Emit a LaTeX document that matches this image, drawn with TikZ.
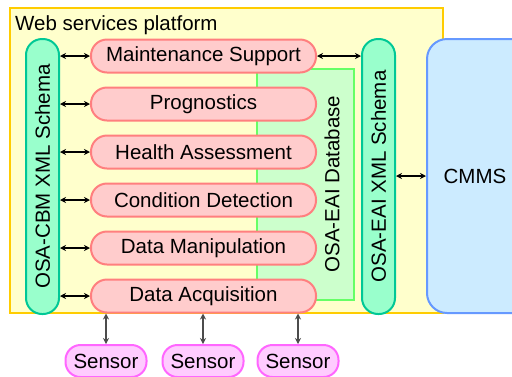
\documentclass[tikz,border=0pt]{standalone}
\usepackage{fontspec}
\setmainfont{Liberation Sans}
\usepackage{tikz}
\usetikzlibrary{arrows.meta,positioning,calc}
\definecolor{platfill}{HTML}{FFFFCC}
\definecolor{platdraw}{HTML}{FFCC00}
\definecolor{layfill}{HTML}{FFCCCC}
\definecolor{laydraw}{HTML}{FF7F7F}
\definecolor{schfill}{HTML}{99FFCC}
\definecolor{schdraw}{HTML}{00C896}
\definecolor{dbfill}{HTML}{CCFFCC}
\definecolor{dbdraw}{HTML}{66FF66}
\definecolor{cmfill}{HTML}{CCEBFF}
\definecolor{cmdraw}{HTML}{6699FF}
\definecolor{senfill}{HTML}{FFCCFF}
\definecolor{sendraw}{HTML}{FF66FF}
\tikzset{
  layer/.style={rectangle, rounded corners=16pt, draw=laydraw, fill=layfill, line width=2pt,
                minimum width=225pt, minimum height=33pt, inner sep=0pt},
  schema/.style={rectangle, rounded corners=16pt, draw=schdraw, fill=schfill, line width=2pt,
                 rotate=90, minimum width=275pt, minimum height=33pt, inner sep=0pt},
  sensorbox/.style={rectangle, rounded corners=15pt, draw=sendraw, fill=senfill, line width=2pt,
                    minimum width=81pt, minimum height=32pt, inner sep=0pt},
  arr/.style={{Stealth[length=6pt,width=6pt]}-{Stealth[length=6pt,width=6pt]}, line width=1.2pt},
}

\begin{document}
\begin{tikzpicture}[x=1pt, y=-1pt, font=\fontsize{20.5}{24}\selectfont]
\path[use as bounding box, clip] (0,0) rectangle (512,376);
% platform frame
\draw[draw=platdraw, fill=platfill, line width=2pt] (10,8) rectangle (443,313);
\node[anchor=base west, inner sep=0pt] (title) at (15,30) {Web services platform};
% database and CMMS
\draw[draw=dbdraw, fill=dbfill, line width=2pt] (257,69) rectangle (354,300);
\node[rotate=90, inner sep=0pt] (db) at (332,184) {OSA-EAI Database};
\node[rectangle, rounded corners=20pt, draw=cmdraw, fill=cmfill, line width=2pt,
      minimum width=110pt, minimum height=274pt] (cmms) at (482,176) {};
\node (cmmstext) at (475,176) {CMMS};
% processing layers
\node[layer] (ms) at (203.5,56)  {Maintenance Support};
\node[layer] (pa) at (203.5,104) {Prognostics};
\node[layer] (ha) at (203.5,152) {Health Assessment};
\node[layer] (cd) at (203.5,200) {Condition Detection};
\node[layer] (dm) at (203.5,248) {Data Manipulation};
\node[layer] (da) at (203.5,296) {Data Acquisition};
% schemas
\node[schema] (cbm) at (42.5,176.5)  {OSA-CBM XML Schema};
\node[schema] (eai) at (378.5,176.5) {OSA-EAI XML Schema};
% sensors
\node[sensorbox] (s1) at (106,361) {Sensor};
\node[sensorbox] (s2) at (203,361) {Sensor};
\node[sensorbox] (s3) at (298,361) {Sensor};
% links
\foreach \l in {ms,pa,ha,cd,dm,da}
  \draw[arr] (cbm.south |- \l.west) -- (\l.west);
\draw[arr] (ms.east) -- (eai.north |- ms.east);
\draw[arr] (eai.south |- cmmstext) -- (cmms.west |- cmmstext);
\foreach \s in {s1,s2,s3}
  \draw[arr, black!70] (da.south -| \s.north) -- (\s.north);
\end{tikzpicture}
\end{document}
